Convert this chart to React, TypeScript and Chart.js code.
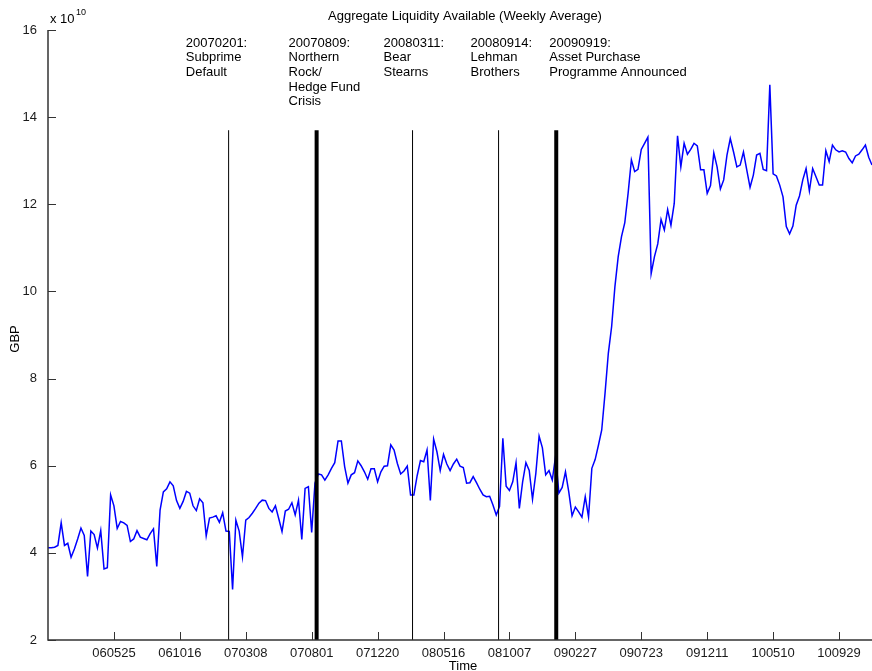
import React, { useEffect, useRef } from 'react';
import Chart from 'chart.js/auto';

// weekly average, units of 10^10 GBP, one value per week (index 0..250)
const liquidity = [
  4.12, 4.12, 4.13, 4.17, 4.69, 4.17, 4.22, 3.90, 4.09, 4.32,
  4.57, 4.40, 3.46, 4.50, 4.42, 4.11, 4.51, 3.63, 3.66, 5.33,
  5.08, 4.56, 4.72, 4.69, 4.63, 4.26, 4.32, 4.51, 4.36, 4.33,
  4.30, 4.44, 4.55, 3.69, 4.98, 5.40, 5.47, 5.63, 5.54, 5.20,
  5.02, 5.18, 5.41, 5.37, 5.08, 4.97, 5.24, 5.15, 4.39, 4.80,
  4.82, 4.85, 4.70, 4.92, 4.50, 4.49, 3.16, 4.75, 4.50, 3.91,
  4.75, 4.81, 4.91, 5.02, 5.14, 5.21, 5.20, 5.02, 4.94, 5.08,
  4.79, 4.49, 4.96, 5.00, 5.15, 4.87, 5.21, 4.31, 5.48, 5.52,
  4.47, 5.60, 5.81, 5.79, 5.67, 5.79, 5.94, 6.07, 6.57, 6.57,
  5.98, 5.60, 5.79, 5.84, 6.11, 6.00, 5.86, 5.69, 5.93, 5.93,
  5.63, 5.86, 5.99, 6.00, 6.48, 6.36, 6.05, 5.81, 5.88, 5.99,
  5.33, 5.33, 5.77, 6.12, 6.09, 6.36, 5.20, 6.61, 6.32, 5.89,
  6.26, 6.04, 5.89, 6.04, 6.15, 5.99, 5.96, 5.60, 5.61, 5.75,
  5.61, 5.46, 5.33, 5.29, 5.30, 5.10, 4.87, 5.07, 6.63, 5.53,
  5.43, 5.63, 6.07, 5.02, 5.63, 6.07, 5.89, 5.23, 5.82, 6.68,
  6.41, 5.79, 5.89, 5.67, 6.22, 5.37, 5.50, 5.86, 5.40, 4.85,
  5.05, 4.94, 4.82, 5.29, 4.82, 5.94, 6.14, 6.47, 6.82, 7.66,
  8.58, 9.19, 10.11, 10.80, 11.26, 11.58, 12.25, 13.02, 12.75, 12.80,
  13.26, 13.40, 13.54, 10.41, 10.80, 11.09, 11.65, 11.41, 11.88, 11.52,
  12.02, 13.57, 12.86, 13.40, 13.15, 13.26, 13.40, 13.34, 12.79, 12.79,
  12.25, 12.43, 13.18, 12.86, 12.35, 12.56, 13.13, 13.51, 13.20, 12.86,
  12.90, 13.20, 12.79, 12.39, 12.67, 13.13, 13.17, 12.80, 12.77, 14.74,
  12.70, 12.65, 12.44, 12.17, 11.49, 11.32, 11.50, 11.98, 12.19, 12.56,
  12.82, 12.31, 12.82, 12.63, 12.44, 12.44, 13.23, 12.98, 13.36, 13.25,
  13.20, 13.23, 13.20, 13.05, 12.95, 13.11, 13.15, 13.25, 13.36, 13.08,
  12.90,
];

const tickIndex = [20, 40, 60, 80, 100, 120, 140, 160, 180, 200, 220, 240];
const tickLabels = ['060525', '061016', '070308', '070801', '071220', '080516',
  '081007', '090227', '090723', '091211', '100510', '100929'];
const yTicks = [2, 4, 6, 8, 10, 12, 14, 16];

// crisis markers (week index), line widths and the labels printed above them
const eventIndex = [54.8, 81.5, 110.6, 136.7, 154.2];
const eventWidth = [1, 4, 1, 1, 4];
const eventTop = 13.7;
const eventText = [
  ['20070201:', 'Subprime', 'Default'],
  ['20070809:', 'Northern', 'Rock/', 'Hedge Fund', 'Crisis'],
  ['20080311:', 'Bear', 'Stearns'],
  ['20080914:', 'Lehman', 'Brothers'],
  ['20090919:', 'Asset Purchase', 'Programme Announced'],
];
const labelIndex = [41.8, 73.0, 101.8, 128.2, 152.1];
const labelTop = 15.7;

const FONT = '"Liberation Sans", Arial, Helvetica, sans-serif';
const INK = '#1a1a1a';

const matlabAxes = {
  id: 'matlabAxes',
  afterDraw(chart: any) {
    const { ctx, chartArea: a, scales } = chart;
    const xs = scales.x;
    const ys = scales.y;
    ctx.save();

    // spines (left + bottom only)
    ctx.strokeStyle = '#333';
    ctx.lineWidth = 1.5;
    ctx.beginPath();
    ctx.moveTo(a.left, a.top);
    ctx.lineTo(a.left, a.bottom);
    ctx.lineTo(a.right, a.bottom);
    ctx.stroke();

    // inward ticks
    ctx.lineWidth = 1;
    ctx.beginPath();
    yTicks.forEach((v) => {
      const py = Math.round(ys.getPixelForValue(v)) + 0.5;
      ctx.moveTo(a.left, py);
      ctx.lineTo(a.left + 8, py);
    });
    tickIndex.forEach((v) => {
      const px = Math.round(xs.getPixelForValue(v)) + 0.5;
      ctx.moveTo(px, a.bottom);
      ctx.lineTo(px, a.bottom - 8);
    });
    ctx.stroke();

    ctx.fillStyle = '#000';
    ctx.textBaseline = 'middle';

    // title
    ctx.font = `13px ${FONT}`;
    ctx.textAlign = 'center';
    ctx.fillText('Aggregate Liquidity Available (Weekly Average)', 465, 16);

    // event labels
    ctx.textAlign = 'left';
    const y0 = ys.getPixelForValue(labelTop);
    eventText.forEach((lines, i) => {
      const px = xs.getPixelForValue(labelIndex[i]);
      lines.forEach((t, j) => ctx.fillText(t, px, y0 + j * 14.7));
    });

    // exponent
    ctx.fillText('x 10', 50, 19);
    ctx.font = `9px ${FONT}`;
    ctx.fillText('10', 76, 13);

    // axis titles
    ctx.font = `13px ${FONT}`;
    ctx.textAlign = 'center';
    ctx.fillText('Time', 463, 666);
    ctx.translate(15, 339);
    ctx.rotate(-Math.PI / 2);
    ctx.fillText('GBP', 0, 0);

    ctx.restore();
  },
};

const LiquidityChart = () => {
  const chartRef = useRef<HTMLCanvasElement>(null);
  const chartInstance = useRef<Chart | null>(null);

  useEffect(() => {
    document.body.style.margin = '0';
    if (!chartRef.current) return;
    if (chartInstance.current) chartInstance.current.destroy();

    const eventSets = eventIndex.map((x, i) => ({
      type: 'line' as const,
      data: [{ x, y: 2 }, { x, y: eventTop }],
      borderColor: '#000',
      borderWidth: eventWidth[i],
      pointRadius: 0,
      order: 0,
    }));

    chartInstance.current = new Chart(chartRef.current, {
      type: 'line',
      data: {
        datasets: [
          ...eventSets,
          {
            data: liquidity.map((v, i) => ({ x: i, y: v })),
            borderColor: '#0000ff',
            borderWidth: 1.5,
            pointRadius: 0,
            tension: 0,
            order: 1,
          },
        ],
      },
      options: {
        responsive: true,
        maintainAspectRatio: false,
        animation: false,
        layout: { padding: { top: 30, left: 0, right: 0, bottom: 0 } },
        plugins: { legend: { display: false }, tooltip: { enabled: false } },
        scales: {
          x: {
            type: 'linear',
            min: 0,
            max: 250,
            grid: { display: false, drawTicks: false },
            border: { display: false },
            afterBuildTicks: (s: any) => { s.ticks = tickIndex.map((value) => ({ value })); },
            afterFit: (s: any) => { s.height = 31; },
            ticks: {
              autoSkip: false,
              maxRotation: 0,
              padding: 6,
              color: INK,
              font: { family: FONT, size: 13 },
              callback: (v: any) => tickLabels[tickIndex.indexOf(Number(v))] ?? '',
            },
          },
          y: {
            min: 2,
            max: 16,
            grid: { display: false, drawTicks: false },
            border: { display: false },
            afterBuildTicks: (s: any) => { s.ticks = yTicks.map((value) => ({ value })); },
            afterFit: (s: any) => { s.width = 48; },
            ticks: {
              padding: 11,
              color: INK,
              font: { family: FONT, size: 13 },
              callback: (v: any) => String(v),
            },
          },
        },
      },
      plugins: [matlabAxes],
    });

    return () => {
      if (chartInstance.current) {
        chartInstance.current.destroy();
        chartInstance.current = null;
      }
    };
  }, []);

  return (
    <div style={{ position: 'absolute', left: 0, top: 0, width: 872, height: 671, background: '#fff' }}>
      <canvas ref={chartRef}></canvas>
    </div>
  );
};

export default function App() {
  return <LiquidityChart />;
}
